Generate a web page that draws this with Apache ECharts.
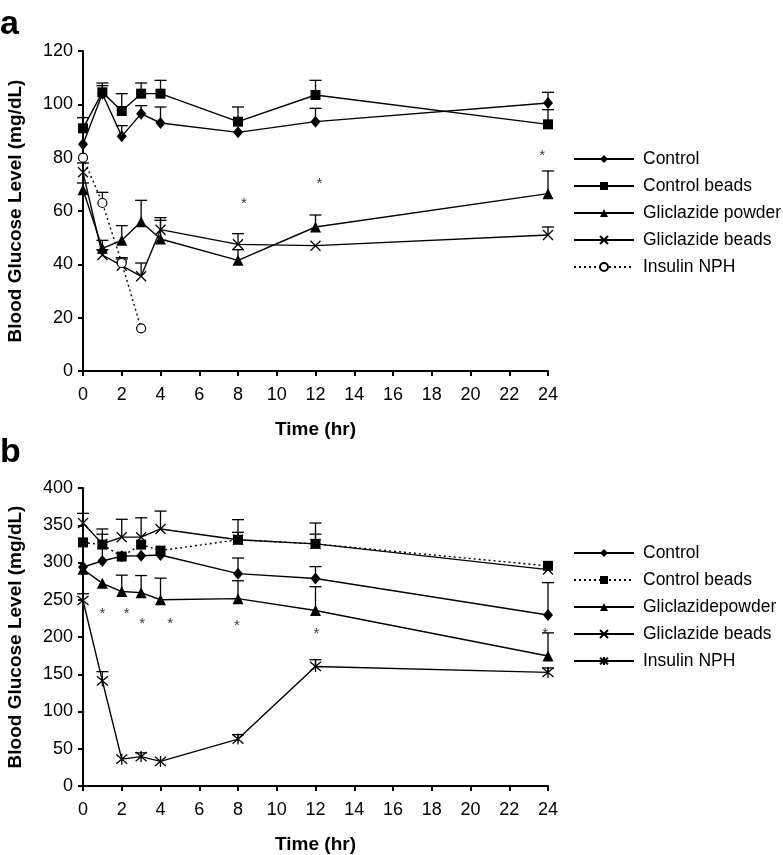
<!DOCTYPE html>
<html>
<head>
<meta charset="utf-8">
<title>Blood glucose</title>
<script src="https://cdn.jsdelivr.net/npm/echarts@6/dist/echarts.min.js"></script>
<style>
  html, body { margin: 0; padding: 0; background: #fff; }
  #chart { width: 783px; height: 855px; }
</style>
</head>
<body>
<div id="chart"></div>
<script>
// time points (hr), same for both panels
var hours = [0, 1, 2, 3, 4, 8, 12, 24]
var hoursInsulinA = [0, 1, 2, 3]
var yTicksA = [0, 20, 40, 60, 80, 100, 120]
var yTicksB = [0, 50, 100, 150, 200, 250, 300, 350, 400]

// panel a
var controlA = [85, 104, 88, 96.5, 93, 89.5, 93.5, 100.5]
var controlErrA = [0, 3, 4, 3, 6, 0, 5, 4]
var controlBeadsA = [91, 104.5, 97.5, 104, 104, 93.5, 103.5, 92.5]
var controlBeadsErrA = [4, 3.5, 6.5, 4, 5, 5.5, 5.5, 5.5]
var powderA = [68, 46, 49, 56, 49.5, 41.5, 54, 66.5]
var powderErrA = [2.5, 3, 5.5, 8, 7, 4, 4.5, 8.5]
var beadsA = [74.5, 43.5, 39.5, 35.5, 53, 47.5, 47, 51]
var beadsErrA = [3.5, 2, 2.5, 5, 4.5, 4, 0, 3]
var insulinA = [80, 63, 40.5, 16]
var insulinErrA = [0, 4, 2, 0]
var starsA = [[8.3, 64], [12.2, 71.5], [23.7, 82]]

// panel b
var controlB = [294, 302, 308.5, 309, 310, 285, 278.5, 229.5]
var controlErrB = [0, 36, 0, 0, 0, 21, 16, 43.5]
var controlBeadsB = [327, 324, 308, 324, 316, 330.5, 325, 295.5]
var controlBeadsErrB = [0, 0, 0, 0, 0, 10, 13, 0]
var powderB = [291, 272, 261, 259.5, 250, 251.5, 235.5, 174.5]
var powderErrB = [0, 0, 22, 23, 29, 24, 32, 31]
var beadsB = [353, 325, 334, 334, 345, 330.5, 325, 290.5]
var beadsErrB = [13, 20, 24, 26, 24, 27, 28, 0]
var insulinB = [249, 141, 36, 39.5, 33, 63, 160.5, 152.5]
var insulinErrB = [9, 12.5, 0, 5, 0, 6, 9, 6]
var starsB = [[1, 236], [2.25, 236], [3.05, 222.5], [4.5, 222.5], [7.95, 220.5], [12.05, 209], [23.85, 209]]

var FONT = 'Liberation Sans, Arial, Helvetica, sans-serif'
var xSym = 'path://M0,0L10,10M10,0L0,10'
var astSym = 'path://M0,0L10,10M10,0L0,10M5,-1L5,11'

function pairs(xs, ys) {
  return ys.map(function (v, i) { return [xs[i], v] })
}

// rows [x, y, err] for the error bar series
function errRows(xs, ys, es) {
  var out = []
  for (var i = 0; i < ys.length; i++) {
    if (es[i] > 0) out.push([xs[i], ys[i], es[i]])
  }
  return out
}

function renderErr(params, api) {
  var x = api.value(0), y = api.value(1), e = api.value(2)
  var p0 = api.coord([x, y])
  var p1 = api.coord([x, y + e])
  var st = { stroke: '#000', lineWidth: 1.3 }
  return {
    type: 'group',
    children: [
      { type: 'line', shape: { x1: p0[0], y1: p0[1], x2: p1[0], y2: p1[1] }, style: st },
      { type: 'line', shape: { x1: p1[0] - 6, y1: p1[1], x2: p1[0] + 6, y2: p1[1] }, style: st }
    ]
  }
}

function lineSeries(name, idx, xs, ys, symbol, size, dotted, hollow) {
  return {
    name: name,
    type: 'line',
    xAxisIndex: idx,
    yAxisIndex: idx,
    data: pairs(xs, ys),
    symbol: symbol,
    symbolSize: size,
    showSymbol: true,
    z: 3,
    lineStyle: { color: '#000', width: 1.4, type: dotted ? [2, 3] : 'solid' },
    itemStyle: hollow
      ? { color: '#fff', borderColor: '#000', borderWidth: 1.2 }
      : { color: '#000', borderColor: '#000', borderWidth: symbol.indexOf('path') === 0 ? 1.3 : 0 }
  }
}

function errSeries(idx, rows) {
  return {
    type: 'custom',
    xAxisIndex: idx,
    yAxisIndex: idx,
    renderItem: renderErr,
    data: rows,
    z: 2,
    silent: true
  }
}

function starSeries(idx, pts) {
  return {
    type: 'scatter',
    xAxisIndex: idx,
    yAxisIndex: idx,
    data: pts,
    symbolSize: 1,
    itemStyle: { color: 'rgba(0,0,0,0)' },
    label: { show: true, formatter: '*', position: 'inside', fontSize: 15, color: '#000', fontFamily: FONT, offset: [0, 4] },
    silent: true
  }
}

function xAxis(idx) {
  return {
    type: 'value',
    gridIndex: idx,
    min: 0, max: 24, interval: 2,
    name: 'Time (hr)',
    nameLocation: 'middle',
    nameGap: 49,
    nameTextStyle: { fontFamily: FONT, fontSize: 19, fontWeight: 'bold', color: '#000' },
    axisLine: { lineStyle: { color: '#000', width: 2 } },
    axisTick: { length: 5, lineStyle: { color: '#000', width: 2 } },
    axisLabel: { fontFamily: FONT, fontSize: 18, color: '#000', margin: 15 },
    splitLine: { show: false }
  }
}

function yAxis(idx, ticks) {
  return {
    type: 'value',
    gridIndex: idx,
    min: ticks[0], max: ticks[ticks.length - 1], interval: ticks[1] - ticks[0],
    name: 'Blood Glucose Level (mg/dL)',
    nameLocation: 'middle',
    nameRotate: 90,
    nameGap: 58,
    nameTextStyle: { fontFamily: FONT, fontSize: 19, fontWeight: 'bold', color: '#000' },
    axisLine: { show: true, lineStyle: { color: '#000', width: 2 } },
    axisTick: { show: true, length: 5, lineStyle: { color: '#000', width: 2 } },
    axisLabel: { fontFamily: FONT, fontSize: 18, color: '#000', margin: 10 },
    splitLine: { show: false }
  }
}

function legend(top, names) {
  return {
    orient: 'vertical',
    left: 568,
    top: top,
    data: names,
    itemWidth: 60,
    itemHeight: 10,
    itemGap: 9,
    formatter: function (n) { return n.slice(2) },
    textStyle: { fontFamily: FONT, fontSize: 17.5, color: '#000', lineHeight: 17.5, padding: [0, 0, 0, 4] },
    selectedMode: false
  }
}

var chart = echarts.init(document.getElementById('chart'), null, { renderer: 'canvas' })

var option = {
  animation: false,
  backgroundColor: '#fff',
  color: ['#000'],
  grid: [
    { left: 83, top: 51, width: 465, height: 320, outerBoundsMode: 'none' },
    { left: 83, top: 488, width: 465, height: 298, outerBoundsMode: 'none' }
  ],
  graphic: [
    { type: 'text', left: 0, top: 8, style: { text: 'a', fontFamily: FONT, fontSize: 34, fontWeight: 'bold', fill: '#000' } },
    { type: 'text', left: 0, top: 436, style: { text: 'b', fontFamily: FONT, fontSize: 34, fontWeight: 'bold', fill: '#000' } }
  ],
  legend: [
    legend(145, ['a:Control', 'a:Control beads', 'a:Gliclazide powder', 'a:Gliclazide beads', 'a:Insulin NPH']),
    legend(539, ['b:Control', 'b:Control beads', 'b:Gliclazidepowder', 'b:Gliclazide beads', 'b:Insulin NPH'])
  ],
  xAxis: [xAxis(0), xAxis(1)],
  yAxis: [yAxis(0, yTicksA), yAxis(1, yTicksB)],
  series: [
    lineSeries('a:Control', 0, hours, controlA, 'diamond', [10, 12], false),
    lineSeries('a:Control beads', 0, hours, controlBeadsA, 'rect', 10, false),
    lineSeries('a:Gliclazide powder', 0, hours, powderA, 'triangle', 11, false),
    lineSeries('a:Gliclazide beads', 0, hours, beadsA, xSym, 10, false),
    lineSeries('a:Insulin NPH', 0, hoursInsulinA, insulinA, 'circle', 9, true, true),
    errSeries(0, errRows(hours, controlA, controlErrA)),
    errSeries(0, errRows(hours, controlBeadsA, controlBeadsErrA)),
    errSeries(0, errRows(hours, powderA, powderErrA)),
    errSeries(0, errRows(hours, beadsA, beadsErrA)),
    errSeries(0, errRows(hoursInsulinA, insulinA, insulinErrA)),
    starSeries(0, starsA),

    lineSeries('b:Control', 1, hours, controlB, 'diamond', [10, 12], false),
    lineSeries('b:Control beads', 1, hours, controlBeadsB, 'rect', 10, true),
    lineSeries('b:Gliclazidepowder', 1, hours, powderB, 'triangle', 11, false),
    lineSeries('b:Gliclazide beads', 1, hours, beadsB, xSym, 10, false),
    lineSeries('b:Insulin NPH', 1, hours, insulinB, astSym, 11, false),
    errSeries(1, errRows(hours, controlB, controlErrB)),
    errSeries(1, errRows(hours, controlBeadsB, controlBeadsErrB)),
    errSeries(1, errRows(hours, powderB, powderErrB)),
    errSeries(1, errRows(hours, beadsB, beadsErrB)),
    errSeries(1, errRows(hours, insulinB, insulinErrB)),
    starSeries(1, starsB)
  ]
}

chart.setOption(option)
window.addEventListener('resize', function () { chart.resize() })
</script>
</body>
</html>
